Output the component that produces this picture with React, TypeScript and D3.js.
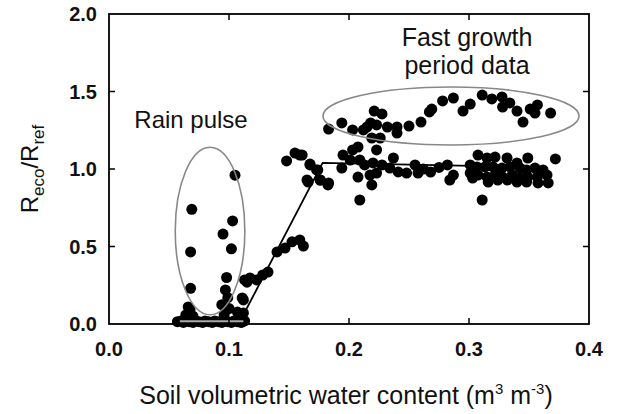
import React from "react";
import * as d3 from "d3";

// ---- data (x = soil volumetric water content, y = Reco/Rref) ----
const rainPulsePoints: [number, number][] = [
  [0.105, 0.96], [0.069, 0.74], [0.103, 0.665], [0.095, 0.58], [0.068, 0.465],
  [0.102, 0.485], [0.068, 0.23], [0.098, 0.3], [0.097, 0.22], [0.094, 0.125],
  [0.0675, 0.09], [0.064, 0.058], [0.107, 0.077], [0.111, 0.168], [0.112, 0.155],
  [0.112, 0.071], [0.111, 0.013], [0.066, 0.11], [0.07, 0.05], [0.064, 0.03],
  [0.096, 0.06], [0.099, 0.17], [0.108, 0.04], [0.1, 0.1],
];
const bottomPoints: [number, number][] = [
  [0.057, 0.015], [0.06, 0.02], [0.062, 0.01], [0.065, 0.02], [0.067, 0.015],
  [0.07, 0.01], [0.072, 0.02], [0.075, 0.015], [0.078, 0.01], [0.08, 0.02],
  [0.083, 0.015], [0.086, 0.01], [0.088, 0.02], [0.091, 0.015], [0.094, 0.01],
  [0.096, 0.02], [0.099, 0.015], [0.102, 0.01], [0.104, 0.02], [0.107, 0.015],
  [0.11, 0.01], [0.113, 0.02],
];
const risingPoints: [number, number][] = [
  [0.115, 0.27], [0.123, 0.284], [0.1175, 0.297], [0.113, 0.284], [0.128, 0.316],
  [0.1325, 0.335], [0.14, 0.465], [0.1467, 0.49], [0.1525, 0.53], [0.159, 0.542],
  [0.162, 0.503], [0.148, 1.052], [0.155, 1.103], [0.159, 1.09], [0.1675, 1.032],
  [0.174, 0.994], [0.166, 0.916], [0.176, 0.929], [0.183, 0.91],
];
const fastGrowthPoints: [number, number][] = [
  [0.221, 1.374], [0.2275, 1.355], [0.218, 1.297], [0.215, 1.271], [0.194, 1.297],
  [0.183, 1.258], [0.203, 1.252], [0.212, 1.252], [0.223, 1.284], [0.232, 1.271],
  [0.24, 1.271], [0.24, 1.232], [0.25, 1.277], [0.26, 1.303], [0.267, 1.368],
  [0.219, 1.2], [0.226, 1.2], [0.223, 1.123], [0.269, 1.387], [0.278, 1.439],
  [0.287, 1.458], [0.295, 1.374], [0.301, 1.419], [0.311, 1.477], [0.319, 1.452],
  [0.3275, 1.465], [0.328, 1.4], [0.334, 1.426], [0.34, 1.374], [0.345, 1.303],
  [0.351, 1.387], [0.357, 1.413], [0.355, 1.361], [0.368, 1.361],
];
const plateauPoints: [number, number][] = [
  [0.161, 1.09], [0.1675, 1.026], [0.165, 0.929], [0.173, 0.994], [0.176, 0.929],
  [0.1825, 0.897], [0.195, 1.09], [0.203, 1.123], [0.2075, 1.142], [0.201, 1.058],
  [0.194, 1.006], [0.209, 1.058], [0.213, 1.026], [0.22, 1.039], [0.2275, 1.026],
  [0.2175, 0.961], [0.223, 0.974], [0.2075, 0.948], [0.219, 0.897], [0.237, 1.071],
  [0.234, 1.006], [0.241, 0.981], [0.248, 0.974], [0.255, 1.026], [0.2575, 0.974],
  [0.209, 0.8], [0.282, 1.026], [0.287, 0.961], [0.284, 0.929], [0.311, 0.8],
  [0.349, 1.071], [0.372, 1.065], [0.3075, 1.09], [0.315, 1.071], [0.3217, 1.077],
  [0.3317, 1.071], [0.34, 1.039], [0.301, 1.026], [0.3067, 1.013], [0.3133, 1.013],
  [0.32, 1.013], [0.3275, 1.006], [0.3342, 1.013], [0.3425, 1.006], [0.348, 0.994],
  [0.355, 1.006], [0.3617, 0.994], [0.301, 0.974], [0.3075, 0.961], [0.315, 0.948],
  [0.3217, 0.961], [0.328, 0.948], [0.336, 0.961], [0.3425, 0.942], [0.349, 0.948],
  [0.357, 0.948], [0.365, 0.961], [0.316, 0.916], [0.324, 0.929], [0.332, 0.929],
  [0.34, 0.916], [0.348, 0.916], [0.3575, 0.91], [0.366, 0.91], [0.303, 0.942],
  [0.262, 1.0], [0.268, 0.98], [0.275, 1.01],
];
const fitLowSegment: [number, number][] = [[0.059, 0.018], [0.112, 0.018]];
const fitLine: [number, number][] = [[0.108, 0.0], [0.178, 1.04], [0.355, 1.012]];
const xTicks = [0, 0.1, 0.2, 0.3, 0.4];
const yTicks = [0, 0.5, 1.0, 1.5, 2.0];
// annotation ellipses: [cx, cy, rx, ry] in data units
const rainEllipse = [0.0842, 0.6, 0.029, 0.54];
const growthEllipse = [0.285, 1.342, 0.1067, 0.187];

const W = 629, H = 414;
const M = { left: 109, right: 589, top: 14, bottom: 324 };

export default function App() {
  const x = d3.scaleLinear().domain([0, 0.4]).range([M.left, M.right]);
  const y = d3.scaleLinear().domain([0, 2]).range([M.bottom, M.top]);
  const line = d3.line<[number, number]>().x(d => x(d[0])).y(d => y(d[1]));
  const allPts = [...bottomPoints, ...rainPulsePoints, ...risingPoints, ...plateauPoints, ...fastGrowthPoints];
  const font = "'Liberation Sans', Arial, Helvetica, sans-serif";
  const tl = 6;
  const ell = (e: number[], k: string) => (
    <ellipse key={k} cx={x(e[0])} cy={y(e[1])} rx={x(e[2]) - x(0)} ry={y(0) - y(e[3])}
      fill="none" stroke="#888" strokeWidth={1.6} />
  );
  return (
    <svg width={W} height={H} style={{ position: "absolute", left: 0, top: 0, background: "#fff" }} fontFamily={font}>
      {allPts.map((d, i) => (
        <circle key={i} cx={x(d[0])} cy={y(d[1])} r={5.5} fill="#000" />
      ))}
      <path d={line(fitLine) || ""} fill="none" stroke="#000" strokeWidth={1.8} />
      <path d={line(fitLowSegment) || ""} fill="none" stroke="#aaa" strokeWidth={2} />
      {ell(rainEllipse, "e1")}
      {ell(growthEllipse, "e2")}
      <rect x={M.left} y={M.top} width={M.right - M.left} height={M.bottom - M.top} fill="none" stroke="#000" strokeWidth={1.8} />
      {xTicks.slice(1, -1).map(t => (
        <g key={"xt" + t}>
          <line x1={x(t)} x2={x(t)} y1={M.bottom} y2={M.bottom - tl} stroke="#000" strokeWidth={1.5} />
          <line x1={x(t)} x2={x(t)} y1={M.top} y2={M.top + tl} stroke="#000" strokeWidth={1.5} />
        </g>
      ))}
      {yTicks.slice(1, -1).map(t => (
        <g key={"yt" + t}>
          <line x1={M.left} x2={M.left + tl} y1={y(t)} y2={y(t)} stroke="#000" strokeWidth={1.5} />
          <line x1={M.right} x2={M.right - tl} y1={y(t)} y2={y(t)} stroke="#000" strokeWidth={1.5} />
        </g>
      ))}
      {xTicks.map(t => (
        <text key={"xl" + t} x={x(t)} y={356} textAnchor="middle" fontSize={20} fontWeight="bold" fill="#111">
          {d3.format(".1f")(t)}
        </text>
      ))}
      {yTicks.map(t => (
        <text key={"yl" + t} x={97} y={y(t) + 7} textAnchor="end" fontSize={20} fontWeight="bold" fill="#111">
          {d3.format(".1f")(t)}
        </text>
      ))}
      <text x={(M.left + M.right) / 2 - 3} y={404} textAnchor="middle" fontSize={25} fill="#111">
        Soil volumetric water content (m<tspan fontSize={15} dy={-10}>3</tspan>
        <tspan dy={10}> m</tspan><tspan fontSize={15} dy={-10}>-3</tspan><tspan dy={10}>)</tspan>
      </text>
      <text transform={`translate(38, ${(M.top + M.bottom) / 2}) rotate(-90)`} textAnchor="middle" fontSize={24} fill="#111">
        R<tspan fontSize={17} dy={6}>eco</tspan><tspan dy={-6}>/R</tspan><tspan fontSize={17} dy={6}>ref</tspan>
      </text>
      <text x={191} y={128} textAnchor="middle" fontSize={24} fill="#111">Rain pulse</text>
      <text x={467} y={46} textAnchor="middle" fontSize={25} fill="#111">Fast growth</text>
      <text x={467} y={74} textAnchor="middle" fontSize={25} fill="#111">period data</text>
    </svg>
  );
}
